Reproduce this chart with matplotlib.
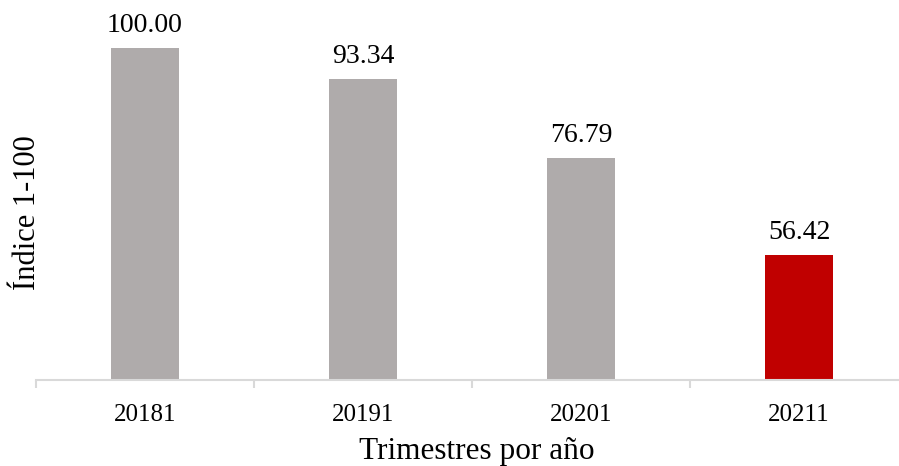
import matplotlib.pyplot as plt

# datos
trimestres = ['20181', '20191', '20201', '20211']
indice = [100.00, 93.34, 76.79, 56.42]
colores = ['#AFABAB', '#AFABAB', '#AFABAB', '#C00000']

plt.rcParams['font.family'] = ['Liberation Serif', 'DejaVu Serif']

fig = plt.figure(figsize=(8.99, 4.66), dpi=100)
ax = fig.add_axes([36 / 899, 86 / 466, 872 / 899, 380 / 466])

x = range(len(trimestres))
bars = ax.bar(x, indice, width=0.312, color=colores, zorder=2)

# etiquetas de valor
for b, v in zip(bars, indice):
    ax.annotate(f'{v:.2f}', (b.get_x() + b.get_width() / 2, v),
                xytext=(0, 7), textcoords='offset points',
                ha='center', va='bottom', fontsize=20, color='#000000')

ax.set_xlim(-0.5, len(trimestres) - 0.5)
ax.set_ylim(30, 110)
ax.set_xticks(list(x))
ax.set_xticklabels(trimestres, fontsize=18)
ax.tick_params(axis='x', length=0, pad=17)
ax.set_yticks([])

# marcas entre categorías
ax.set_xticks([i - 0.5 for i in range(len(trimestres) + 1)], minor=True)
ax.tick_params(axis='x', which='minor', length=6, width=1.5, color='#D9D9D9')

for s in ['top', 'right', 'left']:
    ax.spines[s].set_visible(False)
ax.spines['bottom'].set_color('#D9D9D9')
ax.spines['bottom'].set_linewidth(1.5)

fig.text(477 / 899, 14 / 466, 'Trimestres por año', ha='center', va='center', fontsize=22.5)
fig.text(28 / 899, 253 / 466, 'Índice 1-100', rotation=90, ha='center', va='center', fontsize=22)

fig.savefig('out.png', dpi=100)
